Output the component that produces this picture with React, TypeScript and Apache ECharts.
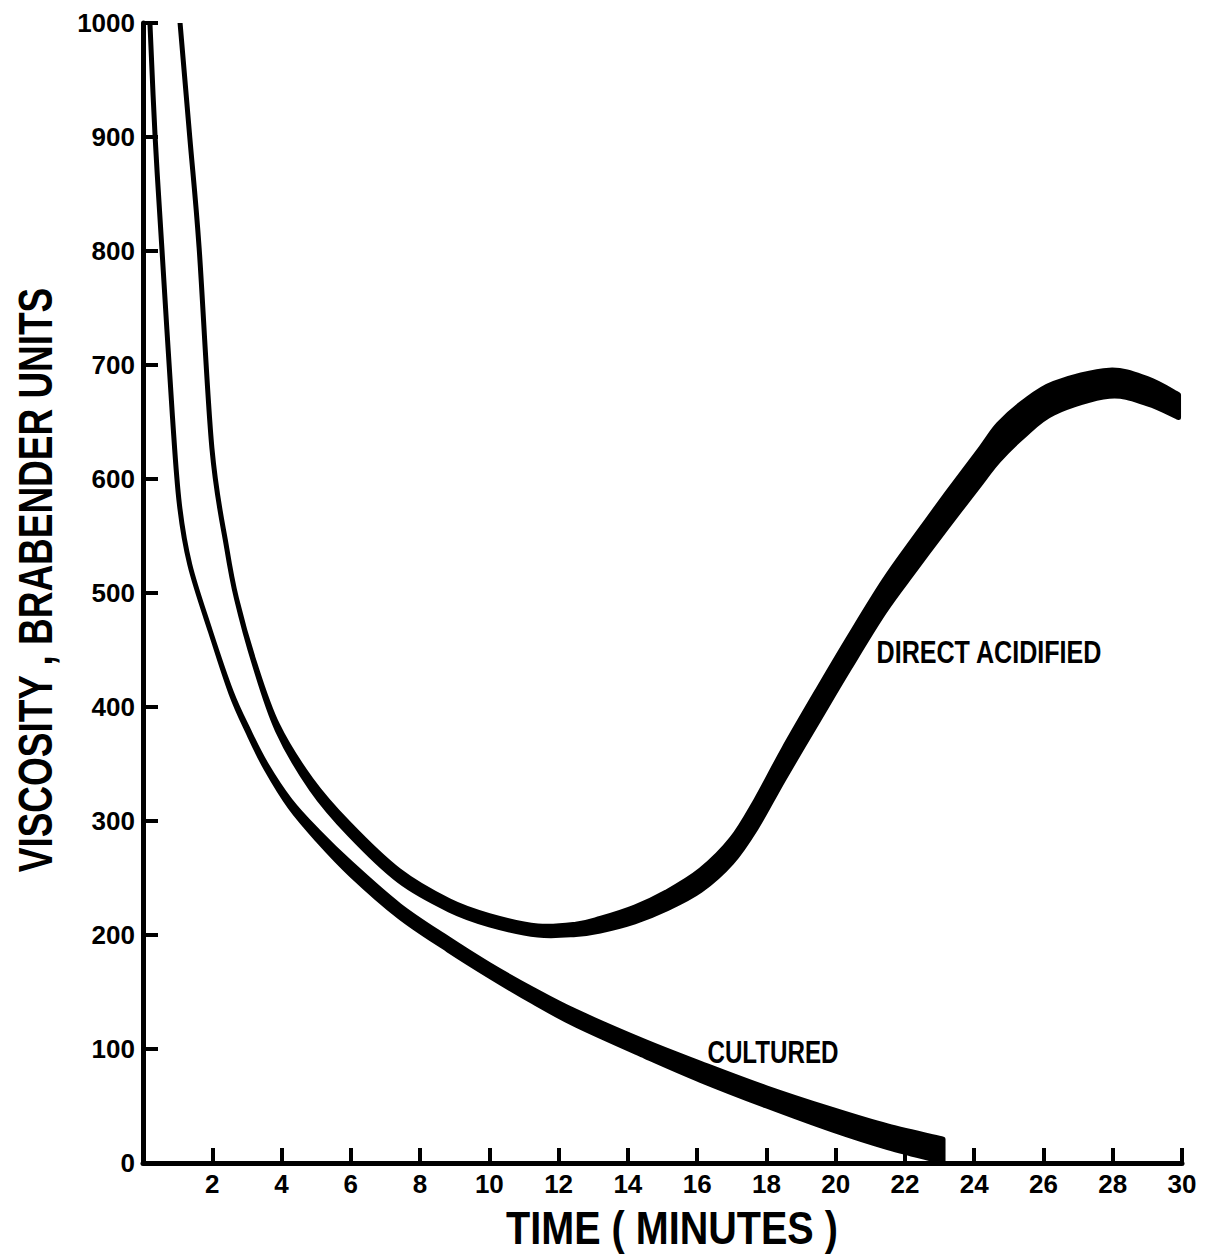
import React, { useEffect, useRef } from "react";
import * as echarts from "echarts";

// Time axis ticks (minutes) and viscosity ticks (Brabender units)
const xTicks = [0, 2, 4, 6, 8, 10, 12, 14, 16, 18, 20, 22, 24, 26, 28, 30];
const yTicks = [0, 100, 200, 300, 400, 500, 600, 700, 800, 900, 1000];

// CULTURED curve: time, centre of band, band thickness
const cultTime = [0.2, 0.35, 0.55, 0.85, 1.05, 1.35, 1.95, 2.55, 3.05, 3.55, 4.25, 5.05, 6.0, 7.4, 8.8, 10.0, 11.25, 12.5, 14.5, 16.1, 18.0, 19.9, 21.5, 23.1];
const cultValue = [1000, 900, 800, 655, 578, 525, 466, 412, 378, 348, 315, 287, 258, 221, 192, 169, 147, 127, 100, 80, 58, 38, 23, 11];
const cultThick = [0, 0, 0, 0, 0, 0, 0, 2, 3, 4, 6, 8, 10, 10, 10, 10, 11, 12, 13, 15, 16, 18, 19, 20];

// DIRECT ACIDIFIED curve: time, centre of band, band thickness
const directTime = [1.07, 1.35, 1.62, 1.99, 2.42, 2.7, 3.22, 3.88, 4.86, 5.95, 7.39, 8.84, 10.0, 11.4, 12.5, 13.2, 14.2, 15.1, 16.1, 17.0, 17.7, 18.5, 19.5, 20.4, 21.4, 22.3, 23.2, 24.2, 24.7, 25.4, 26.3, 27.9, 29.0, 29.9];
const directValue = [1000, 900, 803, 627, 539, 495, 438, 382, 332, 293, 252, 226, 213, 204, 205, 209, 218, 230, 248, 274, 306, 350, 402, 448, 497, 535, 572, 612, 632, 652, 671, 684, 677, 664];
const directThick = [0, 0, 0, 0, 0, 0, 2, 5, 8, 9, 9, 8, 8, 8, 9, 11, 13, 15, 18, 21, 25, 27, 28, 28, 28, 29, 30, 31, 32, 30, 26, 23, 22, 20];

const X_TITLE = "TIME ( MINUTES )";
const Y_TITLE = "VISCOSITY , BRABENDER UNITS";
const LABEL_DIRECT = "DIRECT ACIDIFIED";
const LABEL_CULT = "CULTURED";

const FONT = "'Liberation Sans', Arial, sans-serif";

function spline(pts: number[][]): string {
  let d = "";
  const k = 1 / 6;
  for (let i = 0; i < pts.length - 1; i++) {
    const p0 = pts[i - 1] || pts[i];
    const p1 = pts[i];
    const p2 = pts[i + 1];
    const p3 = pts[i + 2] || p2;
    const c1x = p1[0] + (p2[0] - p0[0]) * k;
    const c1y = p1[1] + (p2[1] - p0[1]) * k;
    const c2x = p2[0] - (p3[0] - p1[0]) * k;
    const c2y = p2[1] - (p3[1] - p1[1]) * k;
    d += ` C${c1x},${c1y} ${c2x},${c2y} ${p2[0]},${p2[1]}`;
  }
  return d;
}

function bandSeries(name: string, time: number[], value: number[], thick: number[]) {
  return {
    type: "custom" as const,
    name,
    clip: true,
    data: time.map((t, i) => [t, value[i], thick[i]]),
    encode: { x: 0, y: 1 },
    renderItem: (params: any, api: any) => {
      if (params.dataIndex !== 0) return null;
      const n = time.length;
      const up: number[][] = [];
      const lo: number[][] = [];
      for (let i = 0; i < n; i++) {
        const t = api.value(0, i);
        const v = api.value(1, i);
        const th = api.value(2, i);
        up.push(api.coord([t, v + th / 2]));
        lo.push(api.coord([t, v - th / 2]));
      }
      lo.reverse();
      const d =
        `M${up[0][0]},${up[0][1]}` + spline(up) + ` L${lo[0][0]},${lo[0][1]}` + spline(lo) + " Z";
      return {
        type: "path",
        shape: { pathData: d },
        style: { fill: "#000", stroke: "#000", lineWidth: 5, lineJoin: "round" },
      };
    },
    z: 3,
  };
}

export default function App() {
  const ref = useRef<HTMLDivElement>(null);
  useEffect(() => {
    if (!ref.current) return;
    const chart = echarts.init(ref.current, undefined, { renderer: "svg" });
    const axisCommon = {
      type: "value" as const,
      axisLine: { show: true, lineStyle: { color: "#000", width: 5 } },
      axisTick: { show: true, inside: true, length: 15, lineStyle: { color: "#000", width: 4 } },
      splitLine: { show: false },
    };
    const labelStyle = { fontFamily: FONT, fontWeight: "bold" as const, fontSize: 26, color: "#000" };
    chart.setOption({
      animation: false,
      backgroundColor: "#fff",
      grid: { left: 143, top: 23, width: 1039, height: 1140, containLabel: false },
      xAxis: {
        ...axisCommon,
        min: xTicks[0],
        max: xTicks[xTicks.length - 1],
        interval: 2,
        axisLabel: {
          ...labelStyle,
          margin: 8,
          formatter: (v: number) => (v === 0 ? "" : String(v)),
        },
      },
      yAxis: {
        ...axisCommon,
        min: yTicks[0],
        max: yTicks[yTicks.length - 1],
        interval: 100,
        axisLabel: { ...labelStyle, margin: 8, formatter: (v: number) => String(v) },
      },
      graphic: [
        {
          type: "text",
          x: 672,
          y: 1228,
          scaleX: 0.86,
          style: {
            text: X_TITLE,
            font: `bold 46px ${FONT}`,
            fill: "#000",
            align: "center",
            verticalAlign: "middle",
          },
        },
        {
          type: "text",
          x: 35,
          y: 580,
          rotation: Math.PI / 2,
          scaleX: 0.77,
          style: {
            text: Y_TITLE,
            font: `bold 48px ${FONT}`,
            fill: "#000",
            align: "center",
            verticalAlign: "middle",
          },
        },
        {
          type: "text",
          x: 989,
          y: 652,
          scaleX: 0.81,
          z: 10,
          style: {
            text: LABEL_DIRECT,
            font: `bold 31px ${FONT}`,
            fill: "#000",
            align: "center",
            verticalAlign: "middle",
          },
        },
        {
          type: "text",
          x: 773,
          y: 1052,
          scaleX: 0.78,
          z: 10,
          style: {
            text: LABEL_CULT,
            font: `bold 31px ${FONT}`,
            fill: "#000",
            align: "center",
            verticalAlign: "middle",
          },
        },
      ],
      series: [
        bandSeries("CULTURED", cultTime, cultValue, cultThick),
        bandSeries("DIRECT ACIDIFIED", directTime, directValue, directThick),
      ],
    });
    return () => chart.dispose();
  }, []);
  return (
    <div
      ref={ref}
      style={{ position: "absolute", left: 0, top: 0, width: 1211, height: 1256, background: "#fff" }}
    />
  );
}
